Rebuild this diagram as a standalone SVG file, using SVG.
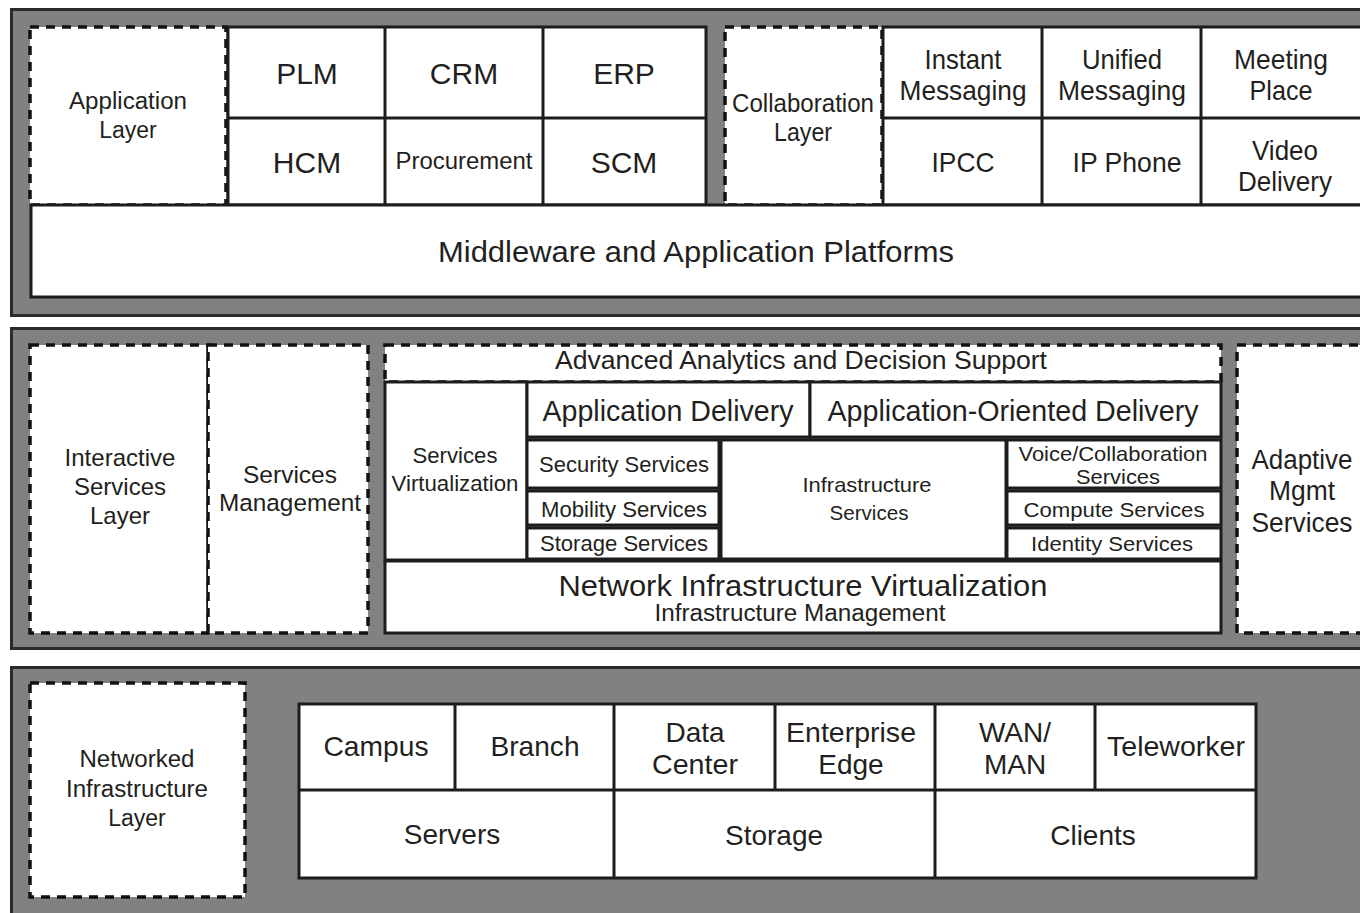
<svg xmlns="http://www.w3.org/2000/svg" width="1360" height="913" viewBox="0 0 1360 913">
  <style>
    .panel { fill: #808183; stroke: #2b2b2b; stroke-width: 3; }
    .cell { fill: #ffffff; stroke: #1c1c1c; stroke-width: 3; }
    .dash { fill: #ffffff; stroke: #111111; stroke-width: 3.5; stroke-dasharray: 9 7; }
    .line { stroke: #1c1c1c; stroke-width: 3; fill: none; }
    text { font-family: "Liberation Sans", Arial, Helvetica, sans-serif; fill: #231f20; text-anchor: middle; }
  </style>

  <!-- three layer bands -->
  <g id="bands">
    <rect class="panel" x="11.5" y="9.5" width="1380" height="306"/>
    <rect class="panel" x="11.5" y="328.5" width="1380" height="320"/>
    <rect class="panel" x="11.5" y="667.5" width="1380" height="270"/>
  </g>

  <!-- ===== Application / Collaboration band ===== -->
  <g id="application-layer">
    <rect class="dash" x="30" y="27" width="196" height="178"/>
    <text x="128" y="109" font-size="23" textLength="118" lengthAdjust="spacingAndGlyphs">Application</text>
    <text x="128" y="138" font-size="23">Layer</text>
  </g>
  <g id="app-grid">
    <rect class="cell" x="228" y="27" width="478" height="178"/>
    <line class="line" x1="228" y1="118" x2="706" y2="118"/>
    <line class="line" x1="385" y1="27" x2="385" y2="205"/>
    <line class="line" x1="543" y1="27" x2="543" y2="205"/>
  </g>
  <g id="plm"><text x="307" y="84" font-size="30">PLM</text></g>
  <g id="crm"><text x="464" y="84" font-size="30">CRM</text></g>
  <g id="erp"><text x="624" y="84" font-size="30">ERP</text></g>
  <g id="hcm"><text x="307" y="173" font-size="30">HCM</text></g>
  <g id="procurement"><text x="464" y="169" font-size="23.5" textLength="137" lengthAdjust="spacingAndGlyphs">Procurement</text></g>
  <g id="scm"><text x="624" y="173" font-size="30">SCM</text></g>

  <g id="collaboration-layer">
    <rect class="dash" x="725" y="27" width="157" height="178"/>
    <text x="803" y="112" font-size="25" textLength="142" lengthAdjust="spacingAndGlyphs">Collaboration</text>
    <text x="803" y="141" font-size="25" textLength="58" lengthAdjust="spacingAndGlyphs">Layer</text>
  </g>
  <g id="collab-grid">
    <rect class="cell" x="883" y="27" width="500" height="178"/>
    <line class="line" x1="883" y1="118" x2="1383" y2="118"/>
    <line class="line" x1="1042" y1="27" x2="1042" y2="205"/>
    <line class="line" x1="1201" y1="27" x2="1201" y2="205"/>
  </g>
  <g id="instant-messaging">
    <text x="963" y="69" font-size="28" textLength="77" lengthAdjust="spacingAndGlyphs">Instant</text>
    <text x="963" y="100" font-size="28" textLength="127" lengthAdjust="spacingAndGlyphs">Messaging</text>
  </g>
  <g id="unified-messaging">
    <text x="1122" y="69" font-size="28" textLength="80" lengthAdjust="spacingAndGlyphs">Unified</text>
    <text x="1122" y="100" font-size="28" textLength="128" lengthAdjust="spacingAndGlyphs">Messaging</text>
  </g>
  <g id="meeting-place">
    <text x="1281" y="69" font-size="28" textLength="94" lengthAdjust="spacingAndGlyphs">Meeting</text>
    <text x="1281" y="100" font-size="28" textLength="63" lengthAdjust="spacingAndGlyphs">Place</text>
  </g>
  <g id="ipcc"><text x="963" y="172" font-size="28" textLength="63" lengthAdjust="spacingAndGlyphs">IPCC</text></g>
  <g id="ip-phone"><text x="1127" y="172" font-size="28" textLength="109" lengthAdjust="spacingAndGlyphs">IP Phone</text></g>
  <g id="video-delivery">
    <text x="1285" y="160" font-size="28" textLength="66" lengthAdjust="spacingAndGlyphs">Video</text>
    <text x="1285" y="191" font-size="28" textLength="94" lengthAdjust="spacingAndGlyphs">Delivery</text>
  </g>
  <g id="middleware">
    <rect class="cell" x="31" y="205" width="1360" height="92"/>
    <text x="696" y="262" font-size="30" textLength="516" lengthAdjust="spacingAndGlyphs">Middleware and Application Platforms</text>
  </g>

  <!-- ===== Interactive Services band ===== -->
  <g id="interactive-services-layer">
    <rect class="dash" x="30" y="345" width="178" height="288"/>
    <text x="120" y="466" font-size="24" textLength="111" lengthAdjust="spacingAndGlyphs">Interactive</text>
    <text x="120" y="495" font-size="24">Services</text>
    <text x="120" y="524" font-size="24">Layer</text>
  </g>
  <g id="services-management">
    <rect class="dash" x="208" y="345" width="160" height="288"/>
    <text x="290" y="483" font-size="24.5" textLength="94" lengthAdjust="spacingAndGlyphs">Services</text>
    <text x="290" y="511" font-size="24.5" textLength="142" lengthAdjust="spacingAndGlyphs">Management</text>
  </g>
  <g id="advanced-analytics">
    <rect class="dash" x="385" y="345" width="836" height="37"/>
    <text x="801" y="369" font-size="26" textLength="492" lengthAdjust="spacingAndGlyphs">Advanced Analytics and Decision Support</text>
  </g>
  <g id="services-virtualization">
    <rect class="cell" x="385" y="382" width="142" height="178"/>
    <text x="455" y="463" font-size="22" textLength="85" lengthAdjust="spacingAndGlyphs">Services</text>
    <text x="455" y="491" font-size="22" textLength="127" lengthAdjust="spacingAndGlyphs">Virtualization</text>
  </g>
  <g id="application-delivery">
    <rect class="cell" x="527" y="382" width="283" height="55"/>
    <text x="668" y="421" font-size="29" textLength="251" lengthAdjust="spacingAndGlyphs">Application Delivery</text>
  </g>
  <g id="application-oriented-delivery">
    <rect class="cell" x="810" y="382" width="411" height="55"/>
    <text x="1013" y="421" font-size="29" textLength="371" lengthAdjust="spacingAndGlyphs">Application-Oriented Delivery</text>
  </g>
  <g id="security-services">
    <rect class="cell" x="527" y="440" width="192" height="48"/>
    <text x="624" y="472" font-size="22" textLength="170" lengthAdjust="spacingAndGlyphs">Security Services</text>
  </g>
  <g id="mobility-services">
    <rect class="cell" x="527" y="491" width="192" height="34"/>
    <text x="624" y="517" font-size="22" textLength="166" lengthAdjust="spacingAndGlyphs">Mobility Services</text>
  </g>
  <g id="storage-services">
    <rect class="cell" x="527" y="528" width="192" height="31"/>
    <text x="624" y="551" font-size="22" textLength="168" lengthAdjust="spacingAndGlyphs">Storage Services</text>
  </g>
  <g id="infrastructure-services">
    <rect class="cell" x="721" y="440" width="285" height="119"/>
    <text x="867" y="492" font-size="21" textLength="129" lengthAdjust="spacingAndGlyphs">Infrastructure</text>
    <text x="869" y="520" font-size="21" textLength="79" lengthAdjust="spacingAndGlyphs">Services</text>
  </g>
  <g id="voice-collaboration-services">
    <rect class="cell" x="1007" y="440" width="214" height="48"/>
    <text x="1113" y="461" font-size="21" textLength="189" lengthAdjust="spacingAndGlyphs">Voice/Collaboration</text>
    <text x="1118" y="484" font-size="21" textLength="84" lengthAdjust="spacingAndGlyphs">Services</text>
  </g>
  <g id="compute-services">
    <rect class="cell" x="1007" y="491" width="214" height="34"/>
    <text x="1114" y="517" font-size="21" textLength="181" lengthAdjust="spacingAndGlyphs">Compute Services</text>
  </g>
  <g id="identity-services">
    <rect class="cell" x="1007" y="528" width="214" height="31"/>
    <text x="1112" y="551" font-size="21" textLength="162" lengthAdjust="spacingAndGlyphs">Identity Services</text>
  </g>
  <g id="network-infrastructure-virtualization">
    <rect class="cell" x="385" y="561" width="836" height="72"/>
    <text x="803" y="596" font-size="30" textLength="489" lengthAdjust="spacingAndGlyphs">Network Infrastructure Virtualization</text>
    <text x="800" y="621" font-size="23" textLength="291" lengthAdjust="spacingAndGlyphs">Infrastructure Management</text>
  </g>
  <g id="adaptive-mgmt-services">
    <rect class="dash" x="1237" y="345" width="160" height="288"/>
    <text x="1302" y="469" font-size="27" textLength="101" lengthAdjust="spacingAndGlyphs">Adaptive</text>
    <text x="1302" y="500" font-size="27" textLength="66" lengthAdjust="spacingAndGlyphs">Mgmt</text>
    <text x="1302" y="532" font-size="27" textLength="101" lengthAdjust="spacingAndGlyphs">Services</text>
  </g>

  <!-- ===== Networked Infrastructure band ===== -->
  <g id="networked-infrastructure-layer">
    <rect class="dash" x="30" y="683" width="215" height="214"/>
    <text x="137" y="767" font-size="23" textLength="115" lengthAdjust="spacingAndGlyphs">Networked</text>
    <text x="137" y="797" font-size="23" textLength="142" lengthAdjust="spacingAndGlyphs">Infrastructure</text>
    <text x="137" y="826" font-size="23">Layer</text>
  </g>
  <g id="place-grid">
    <rect class="cell" x="299" y="704" width="957" height="174"/>
    <line class="line" x1="299" y1="790" x2="1256" y2="790"/>
    <line class="line" x1="455" y1="704" x2="455" y2="790"/>
    <line class="line" x1="614" y1="704" x2="614" y2="878"/>
    <line class="line" x1="775" y1="704" x2="775" y2="790"/>
    <line class="line" x1="935" y1="704" x2="935" y2="878"/>
    <line class="line" x1="1095" y1="704" x2="1095" y2="790"/>
  </g>
  <g id="campus"><text x="376" y="756" font-size="28" textLength="105" lengthAdjust="spacingAndGlyphs">Campus</text></g>
  <g id="branch"><text x="535" y="756" font-size="28" textLength="89" lengthAdjust="spacingAndGlyphs">Branch</text></g>
  <g id="data-center">
    <text x="695" y="742" font-size="28">Data</text>
    <text x="695" y="774" font-size="28" textLength="86" lengthAdjust="spacingAndGlyphs">Center</text>
  </g>
  <g id="enterprise-edge">
    <text x="851" y="742" font-size="28" textLength="130" lengthAdjust="spacingAndGlyphs">Enterprise</text>
    <text x="851" y="774" font-size="28">Edge</text>
  </g>
  <g id="wan-man">
    <text x="1015" y="742" font-size="28">WAN/</text>
    <text x="1015" y="774" font-size="28">MAN</text>
  </g>
  <g id="teleworker"><text x="1176" y="756" font-size="28" textLength="138" lengthAdjust="spacingAndGlyphs">Teleworker</text></g>
  <g id="servers"><text x="452" y="844" font-size="28">Servers</text></g>
  <g id="storage"><text x="774" y="845" font-size="28">Storage</text></g>
  <g id="clients"><text x="1093" y="845" font-size="28">Clients</text></g>

  <!-- no connectors: layers are stacked blocks -->
  <g id="connectors"/>
</svg>
